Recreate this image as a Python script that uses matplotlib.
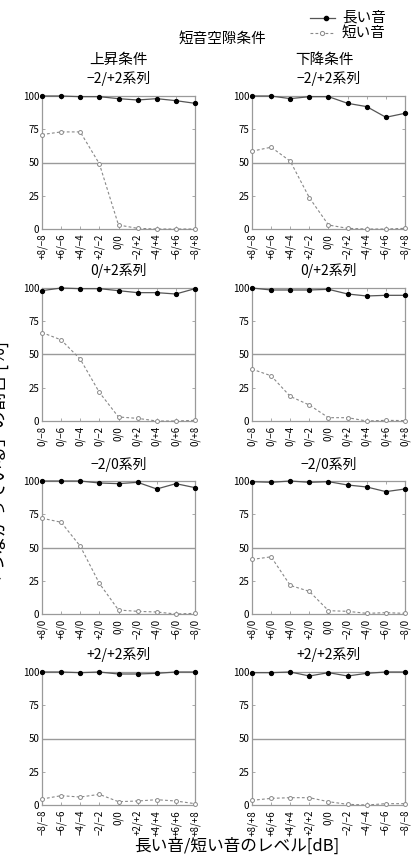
""" 短音空隙条件: rise / fall conditions, 4 series each """

import matplotlib
matplotlib.use("Agg")
import matplotlib.pyplot as plt

plt.rcParams["font.family"] = ["Noto Sans CJK JP", "DejaVu Sans"]

# x tick labels per panel (long/short level)
labels_up_m2p2 = ["+8/−8", "+6/−6", "+4/−4", "+2/−2", "0/0", "−2/+2", "−4/+4", "−6/+6", "−8/+8"]
labels_0p2 = ["0/−8", "0/−6", "0/−4", "0/−2", "0/0", "0/+2", "0/+4", "0/+6", "0/+8"]
labels_m20 = ["+8/0", "+6/0", "+4/0", "+2/0", "0/0", "−2/0", "−4/0", "−6/0", "−8/0"]
labels_up_p2p2 = ["−8/−8", "−6/−6", "−4/−4", "−2/−2", "0/0", "+2/+2", "+4/+4", "+6/+6", "+8/+8"]
labels_down_p2p2 = ["+8/+8", "+6/+6", "+4/+4", "+2/+2", "0/0", "−2/−2", "−4/−4", "−6/−6", "−8/−8"]

# 上昇条件 (left column)
up_m2p2_long = [100, 100, 99.5, 99.5, 98, 97, 98, 96.5, 94.5]
up_m2p2_short = [71, 73, 73, 49, 3, 0.5, 0, 0, 0]
up_0p2_long = [98, 100, 99.5, 99.5, 98, 96.5, 96.5, 95.5, 99.5]
up_0p2_short = [66.5, 61, 46.5, 21.5, 3, 2, 0, 0, 0.5]
up_m20_long = [100, 100, 100, 98.5, 98, 99, 94, 98, 95]
up_m20_short = [72, 69, 51, 23, 3, 2, 1.5, 0, 0.5]
up_p2p2_long = [100, 100, 99.5, 100, 98.5, 98.5, 99, 100, 100]
up_p2p2_short = [4.5, 7, 6, 8, 2.5, 3, 4, 3, 1]

# 下降条件 (right column)
down_m2p2_long = [100, 100, 98, 99.5, 99.5, 94.5, 92, 84, 87]
down_m2p2_short = [58.5, 61.5, 51, 23.5, 3, 0.5, 0, 0, 0.5]
down_0p2_long = [100, 98.5, 98.5, 98.5, 99, 95.5, 94, 94.5, 94.5]
down_0p2_short = [39, 34, 18.5, 12, 2.5, 2.5, 0, 0.5, 0.3]
down_m20_long = [99.5, 99, 100, 99, 99.5, 97, 95.5, 92, 94]
down_m20_short = [41, 43, 21.5, 17, 2.5, 2, 0.5, 1, 0.5]
down_p2p2_long = [99.5, 99.5, 100, 97, 99.5, 97, 99, 100, 100]
down_p2p2_short = [3.5, 5, 5.5, 5.5, 2.5, 0.5, 0, 1, 1]

series_titles = ["−2/+2系列", "0/+2系列", "−2/0系列", "+2/+2系列"]

panels = [
    # (row, col, labels, long, short)
    (0, 0, labels_up_m2p2, up_m2p2_long, up_m2p2_short),
    (0, 1, labels_up_m2p2, down_m2p2_long, down_m2p2_short),
    (1, 0, labels_0p2, up_0p2_long, up_0p2_short),
    (1, 1, labels_0p2, down_0p2_long, down_0p2_short),
    (2, 0, labels_m20, up_m20_long, up_m20_short),
    (2, 1, labels_m20, down_m20_long, down_m20_short),
    (3, 0, labels_up_p2p2, up_p2p2_long, up_p2p2_short),
    (3, 1, labels_down_p2p2, down_p2p2_long, down_p2p2_short),
]

W, H = 412, 861
col_left = [42, 252]
row_top = [96, 288, 481, 672]
ax_w, ax_h = 153, 133
GRAY = "#9a9a9a"


def draw_panel(fig, row, col, labels, long_vals, short_vals):
    left = col_left[col] / W
    bottom = 1 - (row_top[row] + ax_h) / H
    ax = fig.add_axes([left, bottom, ax_w / W, ax_h / H])
    x = list(range(len(labels)))
    ax.axhline(50, color=GRAY, lw=1.0, zorder=1)
    ax.plot(x, long_vals, color="#555555", lw=0.9, marker="o", ms=2.8,
            mfc="black", mec="black", clip_on=False, zorder=3)
    ax.plot(x, short_vals, color="#888888", lw=0.8, ls=(0, (2.5, 2)),
            marker="o", ms=2.8, mfc="white", mec="#888888", mew=0.7,
            clip_on=False, zorder=3)
    ax.set_xlim(0, len(labels) - 1)
    ax.set_ylim(0, 100)
    ax.set_yticks([0, 25, 50, 75, 100])
    ax.set_xticks(x)
    ax.set_xticklabels(labels, rotation=90)
    for s in ax.spines.values():
        s.set_color(GRAY)
        s.set_linewidth(0.9)
    ax.tick_params(direction="in", length=2, width=0.6, color=GRAY,
                   labelsize=7, pad=2, top=True, right=True)
    ax.tick_params(axis="x", pad=3.5)
    ax.text(0.5, 1 + 17 / ax_h, series_titles[row], transform=ax.transAxes,
            ha="center", va="center", fontsize=10)
    return ax


def main():
    fig = plt.figure(figsize=(W / 100, H / 100), dpi=100)
    for row, col, labels, lv, sv in panels:
        draw_panel(fig, row, col, labels, lv, sv)

    fig.text(222 / W, 1 - 39 / H, "短音空隙条件", ha="center", va="center", fontsize=10.5)
    fig.text(118 / W, 1 - 60 / H, "上昇条件", ha="center", va="center", fontsize=10.5)
    fig.text(325 / W, 1 - 60 / H, "下降条件", ha="center", va="center", fontsize=10.5)
    fig.text(237 / W, 1 - 846 / H, "長い音/短い音のレベル[dB]", ha="center",
             va="center", fontsize=12)
    fig.text(-1 / W, 1 - 465 / H, "「つながっている」の割合 [%]", ha="center",
             va="center", rotation=90, fontsize=13)

    # legend drawn by hand at top right
    lax = fig.add_axes([305 / W, 1 - 42 / H, 100 / W, 36 / H])
    lax.set_axis_off()
    lax.set_xlim(0, 100)
    lax.set_ylim(0, 36)
    lax.plot([5, 30], [24, 24], color="#555555", lw=0.9)
    lax.plot([21], [24], "o", ms=3, color="black")
    lax.plot([5, 30], [9, 9], color="#888888", lw=0.8, ls=(0, (2.5, 2)))
    lax.plot([17], [9], "o", ms=3, mfc="white", mec="#888888", mew=0.7)
    lax.text(37, 24, "長い音", va="center", fontsize=10.5)
    lax.text(37, 9, "短い音", va="center", fontsize=10.5)

    fig.savefig("out.png", dpi=100)


if __name__ == "__main__":
    main()
